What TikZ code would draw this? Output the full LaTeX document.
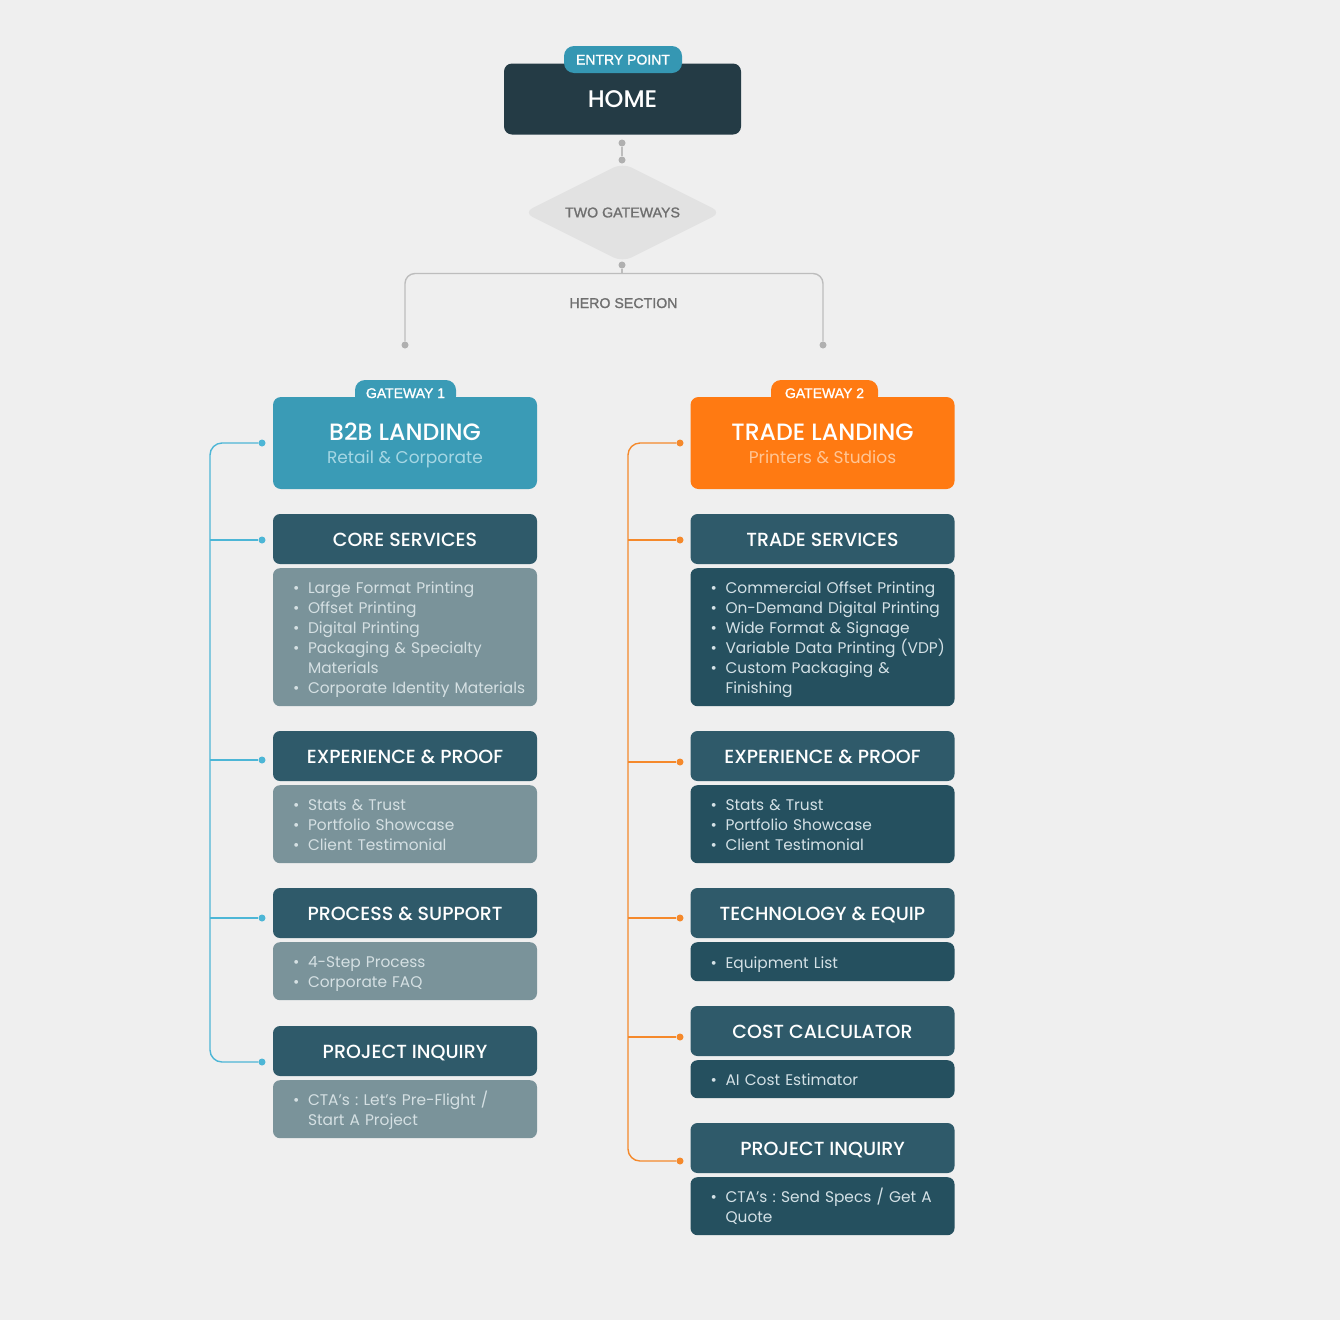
\documentclass[tikz,border=0pt]{standalone}
\usepackage{fontspec}
\setmainfont{Poppins}
\newfontfamily\popmed{Poppins Medium}
\newfontfamily\lab[FakeBold=1.2]{Liberation Sans}
\usetikzlibrary{shapes.geometric,calc}
\definecolor{bgc}{HTML}{EFEFEF}
\definecolor{homec}{HTML}{243B45}
\definecolor{entryc}{HTML}{3597B3}
\definecolor{greyln}{HTML}{BDBDBD}
\definecolor{greydot}{HTML}{B0B0B0}
\definecolor{diac}{HTML}{E2E2E2}
\definecolor{greytx}{HTML}{6F6F6F}
\definecolor{b2bc}{HTML}{3A9BB6}
\definecolor{b2bsub}{HTML}{A6D7E4}
\definecolor{tradec}{HTML}{FF7A12}
\definecolor{tradesub}{HTML}{FFC594}
\definecolor{hdrc}{HTML}{2F5A6A}
\definecolor{lstLc}{HTML}{7A939A}
\definecolor{lstLt}{HTML}{D5E0E3}
\definecolor{lstRc}{HTML}{25505F}
\definecolor{lstRt}{HTML}{D4E1E6}
\definecolor{bluel}{HTML}{4DB6D6}
\definecolor{orangel}{HTML}{F5892B}
\frenchspacing
\newcommand\itm[1]{\makebox[15pt][l]{•}#1}
\newcommand\cnt[1]{\hspace*{15pt}#1}
\newcommand\blist[1]{\raisebox{-2.5pt}[\height][\depth]{\begin{tabular}{@{\hspace{20pt}}l@{}}#1\end{tabular}}}
\begin{document}
\begin{tikzpicture}[x=1pt,y=-1pt,
  hdr/.style={fill=hdrc, rounded corners=7pt, minimum width=264pt, minimum height=50pt, inner sep=0pt, text=white, font=\popmed\fontsize{19}{22}\selectfont, text height=15.4pt, text depth=0pt},
  lst/.style={rounded corners=7pt, text width=264pt, inner xsep=0pt, inner ysep=0pt, align=left, anchor=north, font=\fontsize{15.4}{20}\selectfont\frenchspacing},
  lstL/.style={lst, fill=lstLc, text=lstLt},
  lstR/.style={lst, fill=lstRc, text=lstRt},
  land/.style={rounded corners=8pt, minimum width=264pt, minimum height=92pt, inner sep=0pt},
  ttl/.style={inner sep=0pt, text=white, font=\popmed\fontsize{23.6}{26}\selectfont, text height=16.6pt, text depth=0pt},
  sub/.style={inner sep=0pt, font=\fontsize{17}{20}\selectfont, text height=12pt, text depth=0pt},
  pill/.style={rounded corners=10pt, inner sep=0pt, text=white, font=\lab\fontsize{14}{16}\selectfont, text height=10pt, text depth=0pt},
  gdot/.style={circle, fill=greydot, inner sep=0pt, minimum size=7pt},
  bdot/.style={circle, fill=bluel, inner sep=0pt, minimum size=7pt},
  odot/.style={circle, fill=orangel, inner sep=0pt, minimum size=7pt},
  glab/.style={text=greytx, font=\lab\fontsize{14.2}{16}\selectfont, inner sep=0pt, text height=10pt, text depth=0pt}
]
\fill[bgc] (0,0) rectangle (1340,1320);
\useasboundingbox (0,0) rectangle (1340,1320);

% top
\node[fill=homec, rounded corners=8pt, minimum width=237pt, minimum height=71pt, inner sep=0pt, text=white, font=\popmed\fontsize{24}{26}\selectfont, text height=16.8pt, text depth=0pt] (home) at (622.5,99) {HOME};
\node[pill, fill=entryc, minimum width=118pt, minimum height=27pt] (entry) at (623,59.5) {ENTRY POINT};
\node[gdot] (d1) at (622,143) {};
\node[gdot] (d2) at (622,160) {};
\node[diamond, aspect=2, fill=diac, rounded corners=10pt, minimum width=198pt, minimum height=99pt, inner sep=0pt, text=greytx, font=\lab\fontsize{14.2}{16}\selectfont] (dia) at (622.5,212.5) {TWO GATEWAYS};
\node[gdot] (d3) at (622,265) {};
\coordinate (j) at (622,273.5);
\node[gdot] (dl) at (405,345) {};
\node[gdot] (dr) at (823,345) {};
\draw[greyln, line width=1.4pt] (d1) -- (d2);
\draw[greyln, line width=1.4pt] (d3) -- (j);
\draw[greyln, line width=1.4pt, rounded corners=10pt] (j) -| (dl);
\draw[greyln, line width=1.4pt, rounded corners=10pt] (j) -| (dr);
\node[glab] (hero) at (623.5,303) {HERO SECTION};

% left column
\node[land, fill=b2bc] (b2b) at (405,443) {};
\node[pill, fill=b2bc, minimum width=101pt, minimum height=26pt] (g1) at (405.5,393) {GATEWAY 1};
\node[ttl] (b2bt) at (405,432.5) {B2B LANDING};
\node[sub, text=b2bsub] (b2bs) at (405,457.5) {Retail \& Corporate};

\node[hdr] (cs) at (405,539) {CORE SERVICES};
\node[lstL, minimum height=138pt] (csl) at (405,568) {\blist{
\itm{Large Format Printing}\\ \itm{Offset Printing}\\ \itm{Digital Printing}\\ \itm{Packaging \& Specialty}\\ \cnt{Materials}\\ \itm{Corporate Identity Materials}}};

\node[hdr] (ep) at (405,756) {EXPERIENCE \& PROOF};
\node[lstL, minimum height=78pt] (epl) at (405,785) {\blist{
\itm{Stats \& Trust}\\ \itm{Portfolio Showcase}\\ \itm{Client Testimonial}}};

\node[hdr] (ps) at (405,913) {PROCESS \& SUPPORT};
\node[lstL, minimum height=58pt] (psl) at (405,942) {\blist{
\itm{4-Step Process}\\ \itm{Corporate FAQ}}};

\node[hdr] (pi) at (405,1051) {PROJECT INQUIRY};
\node[lstL, minimum height=58pt] (pil) at (405,1080) {\blist{
\itm{CTA’s : Let's Pre-Flight /}\\ \cnt{Start A Project}}};

\node[bdot] (l1) at (262,443) {};
\node[bdot] (l2) at (262,540) {};
\node[bdot] (l3) at (262,760) {};
\node[bdot] (l4) at (262,918) {};
\node[bdot] (l5) at (262,1062) {};
\coordinate (spL) at (210,750);
\draw[bluel, line width=1.4pt, rounded corners=12pt] (l1) -| (spL) |- (l5);
\draw[bluel, line width=1.4pt] (l2 -| spL) -- (l2);
\draw[bluel, line width=1.4pt] (l3 -| spL) -- (l3);
\draw[bluel, line width=1.4pt] (l4 -| spL) -- (l4);

% right column
\node[land, fill=tradec] (trade) at (822.5,443) {};
\node[pill, fill=tradec, minimum width=107pt, minimum height=26pt] (g2) at (824.5,393) {GATEWAY 2};
\node[ttl] (tradet) at (822.5,432.5) {TRADE LANDING};
\node[sub, text=tradesub] (trades) at (822.5,457.5) {Printers \& Studios};

\node[hdr] (ts) at (822.5,539) {TRADE SERVICES};
\node[lstR, minimum height=138pt] (tsl) at (822.5,568) {\blist{
\itm{Commercial Offset Printing}\\ \itm{On-Demand Digital Printing}\\ \itm{Wide Format \& Signage}\\ \itm{Variable Data Printing (VDP)}\\ \itm{Custom Packaging \&}\\ \cnt{Finishing}}};

\node[hdr] (ep2) at (822.5,756) {EXPERIENCE \& PROOF};
\node[lstR, minimum height=78pt] (ep2l) at (822.5,785) {\blist{
\itm{Stats \& Trust}\\ \itm{Portfolio Showcase}\\ \itm{Client Testimonial}}};

\node[hdr] (te) at (822.5,913) {TECHNOLOGY \& EQUIP};
\node[lstR, minimum height=39pt] (tel) at (822.5,942) {\blist{
\itm{Equipment List}}};

\node[hdr] (cc) at (822.5,1031) {COST CALCULATOR};
\node[lstR, minimum height=38pt] (ccl) at (822.5,1060) {\blist{
\itm{AI Cost Estimator}}};

\node[hdr] (pi2) at (822.5,1148) {PROJECT INQUIRY};
\node[lstR, minimum height=58pt] (pi2l) at (822.5,1177) {\blist{
\itm{CTA’s : Send Specs / Get A}\\ \cnt{Quote}}};

\node[odot] (r1) at (680,443) {};
\node[odot] (r2) at (680,540) {};
\node[odot] (r3) at (680,762) {};
\node[odot] (r4) at (680,918) {};
\node[odot] (r5) at (680,1037) {};
\node[odot] (r6) at (680,1161) {};
\coordinate (spR) at (628,800);
\draw[orangel, line width=1.4pt, rounded corners=12pt] (r1) -| (spR) |- (r6);
\draw[orangel, line width=1.4pt] (r2 -| spR) -- (r2);
\draw[orangel, line width=1.4pt] (r3 -| spR) -- (r3);
\draw[orangel, line width=1.4pt] (r4 -| spR) -- (r4);
\draw[orangel, line width=1.4pt] (r5 -| spR) -- (r5);
\end{tikzpicture}
\end{document}
